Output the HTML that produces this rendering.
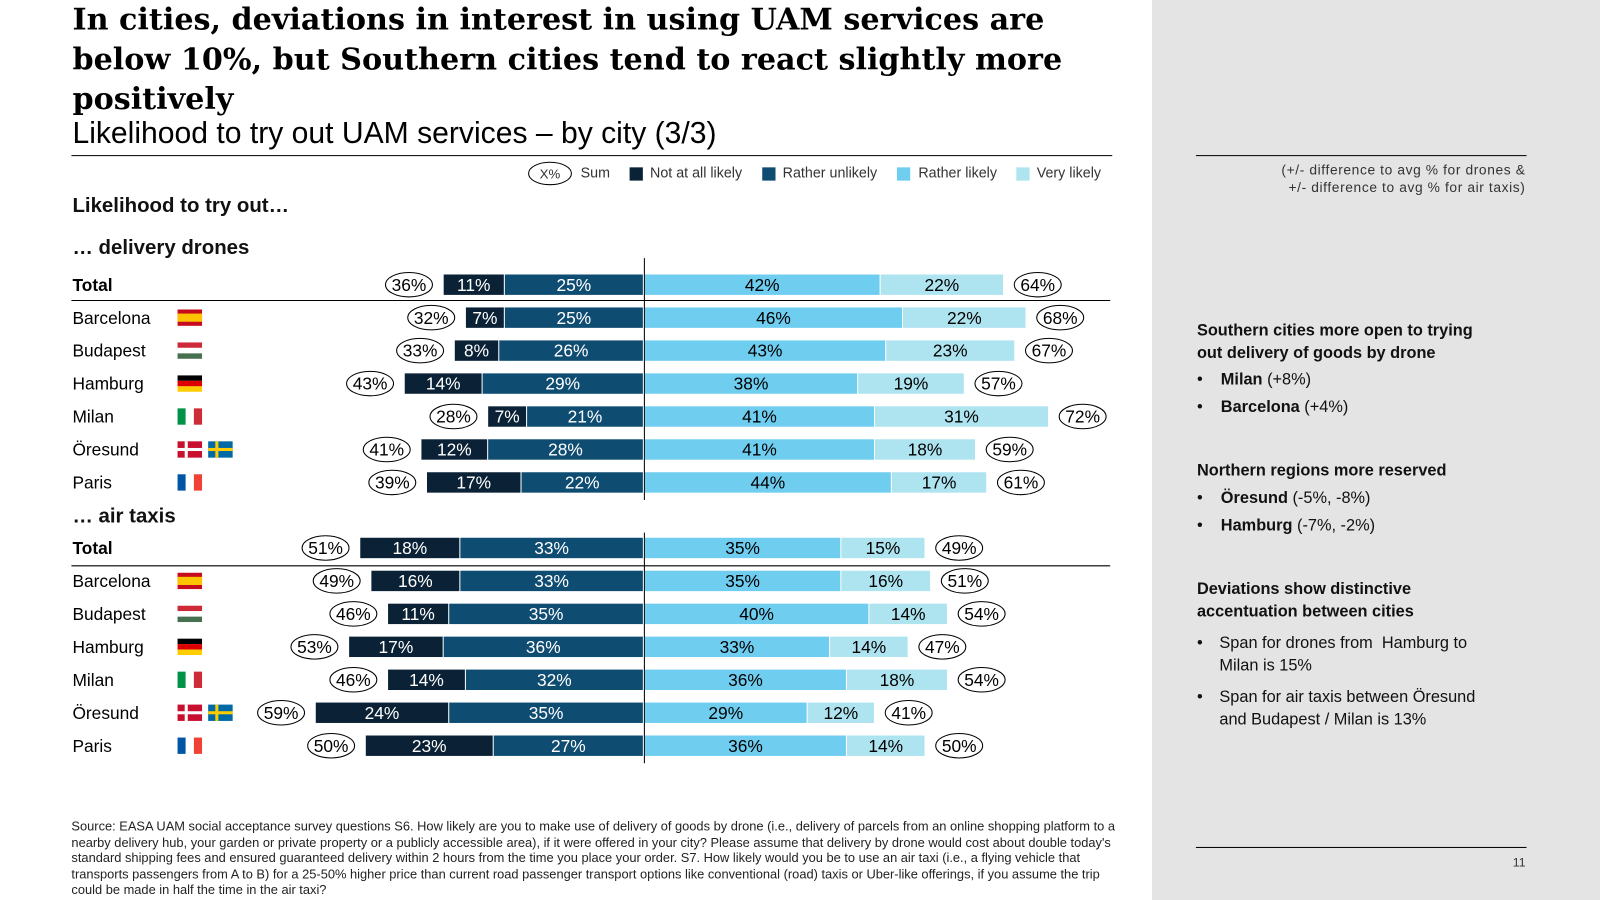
<!DOCTYPE html>
<html><head><meta charset="utf-8">
<style>
html,body{margin:0;padding:0;width:1600px;height:900px;overflow:hidden;background:#fff}
#wrap{position:absolute;left:0;top:0;width:1568px;height:882px;transform:scale(1.02041);transform-origin:0 0;font-family:"Liberation Sans",sans-serif;color:#000}
.abs{position:absolute}
#panel{left:1129px;top:0;width:439px;height:882px;background:#e4e4e4}
.title{left:71px;top:-1px;width:1060px;font-family:"DejaVu Serif",serif;font-weight:bold;font-size:29.6px;line-height:39px;white-space:nowrap}
.sub{left:71px;top:114px;font-size:29.5px}
.hl{height:1px;background:#000}
.leg{top:161px;font-size:14px;color:#333;white-space:nowrap}
.sq{width:13px;height:13px;top:164px}
.sec{font-size:20px;font-weight:bold;color:#111}
.rh{font-size:16px;font-weight:bold;line-height:22px;left:1173px;color:#111}
.bul{font-size:16px;left:1173px;line-height:22px;color:#111}
</style></head><body>
<div id="wrap">
<div id="panel" class="abs"></div>
<div class="abs title">In cities, deviations in interest in using UAM services are<br>below 10%, but Southern cities tend to react slightly more<br>positively</div>
<div class="abs sub">Likelihood to try out UAM services – by city (3/3)</div>
<div class="abs hl" style="left:70px;top:152px;width:1020px"></div>

<svg class="abs" style="left:517px;top:158px" width="45" height="25"><ellipse cx="22" cy="12" rx="21" ry="11" fill="none" stroke="#000" stroke-width="1"/><text x="22" y="17" font-size="13" text-anchor="middle" font-family="Liberation Sans" fill="#333">X%</text></svg>
<div class="abs leg" style="left:569px">Sum</div>
<div class="abs sq" style="left:617px;background:#0b2236"></div>
<div class="abs leg" style="left:637px">Not at all likely</div>
<div class="abs sq" style="left:747px;background:#0f4c72"></div>
<div class="abs leg" style="left:767px">Rather unlikely</div>
<div class="abs sq" style="left:879px;background:#6fcdf0"></div>
<div class="abs leg" style="left:900px">Rather likely</div>
<div class="abs sq" style="left:996px;background:#aee3f0"></div>
<div class="abs leg" style="left:1016px">Very likely</div>

<div class="abs" style="left:71px;top:191px;font-size:20px;font-weight:bold;color:#111">Likelihood to try out…</div>
<div class="abs sec" style="left:71px;top:232px">… delivery drones</div>
<div class="abs sec" style="left:71px;top:495px">… air taxis</div>

<svg id="chart" class="abs" style="left:0;top:0" width="1129" height="800"></svg>

<div class="abs" style="left:1172px;top:152px;width:324px;height:1px;background:#000"></div>
<div class="abs" style="left:1150px;top:158px;width:345px;text-align:right;font-size:13.5px;line-height:17px;color:#333;letter-spacing:0.6px">(+/- difference to avg % for drones &amp;<br>+/- difference to avg % for air taxis)</div>

<div class="abs rh" style="top:314px">Southern cities more open to trying<br>out delivery of goods by drone</div>
<div class="abs bul" style="top:362px">•&nbsp;&nbsp;&nbsp;&nbsp;<b>Milan</b> (+8%)</div>
<div class="abs bul" style="top:389px">•&nbsp;&nbsp;&nbsp;&nbsp;<b>Barcelona</b> (+4%)</div>
<div class="abs rh" style="top:451px">Northern regions more reserved</div>
<div class="abs bul" style="top:478px">•&nbsp;&nbsp;&nbsp;&nbsp;<b>Öresund</b> (-5%, -8%)</div>
<div class="abs bul" style="top:505px">•&nbsp;&nbsp;&nbsp;&nbsp;<b>Hamburg</b> (-7%, -2%)</div>
<div class="abs rh" style="top:567px">Deviations show distinctive<br>accentuation between cities</div>
<div class="abs bul" style="top:620px">•</div>
<div class="abs bul" style="top:620px;left:1195px">Span for drones from&nbsp; Hamburg to<br>Milan is 15%</div>
<div class="abs bul" style="top:673px">•</div>
<div class="abs bul" style="top:673px;left:1195px">Span for air taxis between Öresund<br>and Budapest / Milan is 13%</div>

<div class="abs" style="left:1172px;top:830px;width:324px;height:1px;background:#000"></div>
<div class="abs" style="left:1470px;top:838px;width:25px;text-align:right;font-size:12px;color:#333">11</div>

<div class="abs" style="left:70px;top:803px;width:1025px;font-size:12.6px;line-height:15.6px;color:#222">Source: EASA UAM social acceptance survey questions S6. How likely are you to make use of delivery of goods by drone (i.e., delivery of parcels from an online shopping platform to a nearby delivery hub, your garden or private property or a publicly accessible area), if it were offered in your city? Please assume that delivery by drone would cost about double today's standard shipping fees and ensured guaranteed delivery within 2 hours from the time you place your order. S7. How likely would you be to use an air taxi (i.e., a flying vehicle that transports passengers from A to B) for a 25-50% higher price than current road passenger transport options like conventional (road) taxis or Uber-like offerings, if you assume the trip could be made in half the time in the air taxi?</div>
</div>

<script>
const cities = ["Total","Barcelona","Budapest","Hamburg","Milan","Öresund","Paris"];
const droneNot = [11,7,8,14,7,12,17];
const droneUnl = [25,25,26,29,21,28,22];
const droneLik = [42,46,43,38,41,41,44];
const droneVery = [22,22,23,19,31,18,17];
const droneNeg = [36,32,33,43,28,41,39];
const dronePos = [64,68,67,57,72,59,61];
const taxiNot = [18,16,11,17,14,24,23];
const taxiUnl = [33,33,35,36,32,35,27];
const taxiLik = [35,35,40,33,36,29,36];
const taxiVery = [15,16,14,14,18,12,14];
const taxiNeg = [51,49,46,53,46,59,50];
const taxiPos = [49,51,54,47,54,41,50];

const NS="http://www.w3.org/2000/svg";
const svg=document.getElementById('chart');
const X0=631, KL=5.45, KR=5.5, H=20, OFF=34;
const xl=v=>v*KL, xr=v=>v*KR;
function mk(tag,attrs){const e=document.createElementNS(NS,tag);for(const k in attrs)e.setAttribute(k,attrs[k]);svg.appendChild(e);return e;}
function txt(x,y,s,col,size,anchor,weight){const t=mk('text',{x:x,y:y,fill:col,'font-size':size,'text-anchor':anchor||'middle','font-family':'Liberation Sans, sans-serif'});if(weight)t.setAttribute('font-weight',weight);t.textContent=s;return t;}
function flag(x,y,c){
  if(c==="Barcelona"){mk('rect',{x:x,y:y,width:24,height:16,fill:'#c60b1e'});mk('rect',{x:x,y:y+4,width:24,height:8,fill:'#ffc400'});}
  else if(c==="Budapest"){mk('rect',{x:x,y:y,width:24,height:5.3,fill:'#ce2939'});mk('rect',{x:x,y:y+5.3,width:24,height:5.4,fill:'#fff'});mk('rect',{x:x,y:y+10.7,width:24,height:5.3,fill:'#477050'});}
  else if(c==="Hamburg"){mk('rect',{x:x,y:y,width:24,height:5.3,fill:'#000'});mk('rect',{x:x,y:y+5.3,width:24,height:5.4,fill:'#dd0000'});mk('rect',{x:x,y:y+10.7,width:24,height:5.3,fill:'#ffce00'});}
  else if(c==="Milan"){mk('rect',{x:x,y:y,width:8,height:16,fill:'#009246'});mk('rect',{x:x+8,y:y,width:8,height:16,fill:'#fff'});mk('rect',{x:x+16,y:y,width:8,height:16,fill:'#ce2b37'});}
  else if(c==="Paris"){mk('rect',{x:x,y:y,width:8,height:16,fill:'#0055a4'});mk('rect',{x:x+8,y:y,width:8,height:16,fill:'#fff'});mk('rect',{x:x+16,y:y,width:8,height:16,fill:'#ef4135'});}
  else if(c==="Öresund"){mk('rect',{x:x,y:y,width:24,height:16,fill:'#c8102e'});mk('rect',{x:x+7,y:y,width:3,height:16,fill:'#fff'});mk('rect',{x:x,y:y+6.5,width:24,height:3,fill:'#fff'});
    mk('rect',{x:x+30,y:y,width:24,height:16,fill:'#006aa7'});mk('rect',{x:x+37,y:y,width:3,height:16,fill:'#fecc00'});mk('rect',{x:x+30,y:y+6.5,width:24,height:3,fill:'#fecc00'});}
}
function oval(cx,cy,s,name){
  const e=mk('ellipse',{cx:cx,cy:cy,rx:23,ry:12,fill:'#fff',stroke:'#000','stroke-width':1});
  
  
  txt(cx,cy+6,s,'#000',17);
}
function block(y0,not,unl,lik,very,neg,pos,prefix){
  for(let i=0;i<cities.length;i++){
    const cy=y0+i*32.3, y=cy-H/2;
    const c=cities[i];
    const lab=txt(71,cy+6,c,'#000',17,'start',i===0?'bold':null);
    
    
    if(i>0)flag(174,cy-8,c);
    const wU=xl(unl[i]), wN=xl(not[i]), wL=xr(lik[i]), wV=xr(very[i]);
    const segs=[
      [X0-wU,wU-1,'#0f4c72','#fff',unl[i],'rather-unlikely'],
      [X0-wU-wN,wN-1,'#0b2236','#fff',not[i],'not-at-all'],
      [X0+1,wL-1,'#6fcdf0','#000',lik[i],'rather-likely'],
      [X0+wL+1,wV-1,'#aee3f0','#000',very[i],'very-likely']];
    segs.forEach(s=>{
      const r=mk('rect',{x:s[0],y:y,width:Math.max(s[1],0),height:H,fill:s[2]});
      
      
      txt(s[0]+s[1]/2,cy+6,s[4]+'%',s[3],17);
    });
    oval(X0-wU-wN-OFF,cy,neg[i]+'%',prefix+'-sum-negative-'+i);
    oval(X0+wL+wV+OFF,cy,pos[i]+'%',prefix+'-sum-positive-'+i);
  }
}
block(279,droneNot,droneUnl,droneLik,droneVery,droneNeg,dronePos,'drones');
block(537,taxiNot,taxiUnl,taxiLik,taxiVery,taxiNeg,taxiPos,'taxis');
const l1=mk('line',{x1:70,x2:1088,y1:294.5,y2:294.5,stroke:'#000','stroke-width':1});


const l2=mk('line',{x1:70,x2:1088,y1:554.5,y2:554.5,stroke:'#000','stroke-width':1});


const a1=mk('line',{x1:X0+0.5,x2:X0+0.5,y1:253,y2:490,stroke:'#000','stroke-width':1});


const a2=mk('line',{x1:X0+0.5,x2:X0+0.5,y1:522,y2:748,stroke:'#000','stroke-width':1});


</script>
</body></html>
